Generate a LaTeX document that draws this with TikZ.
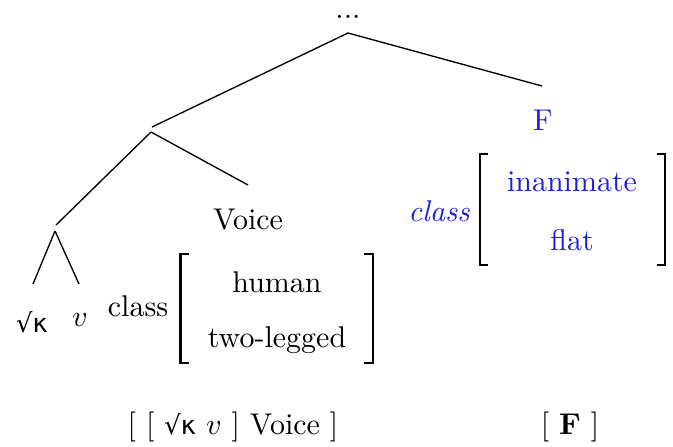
\documentclass[tikz,border=0pt]{standalone}
\usepackage{fontspec}
\newfontfamily\symf{DejaVu Sans}
\definecolor{fblue}{RGB}{30,30,220}
\newcommand{\rk}{{\fontsize{8.6}{10}\selectfont\symf √κ}}
\begin{document}
\begin{tikzpicture}[x=0.33333pt,y=-0.33333pt,
  every node/.style={font=\fontsize{10}{12}\selectfont, inner sep=0pt},
  branch/.style={line width=0.45pt},
  brk/.style={line width=0.8pt},
  blu/.style={text=fblue}]
\useasboundingbox (0,0) rectangle (673,446);
% tree points
\coordinate (root) at (348,33);
\coordinate (ftop) at (542,86);
\coordinate (n1in) at (152,127);
\coordinate (n1) at (151,132);
\coordinate (vtop) at (248,185);
\coordinate (n2in) at (56,225);
\coordinate (n2) at (55,231);
\coordinate (kt) at (33,284);
\coordinate (vt) at (79,284);
% labels
\node[anchor=base, text height=2pt] (dots) at (348,18) {...};
\node[blu] (F) at (543,120) {F};
\node (voice) at (248,220) {Voice};
\node (kappa) at (32,322) {\rk};
\node (vv) at (80,320) {$v$};
% connectors
\draw[branch] (root) -- (ftop);
\draw[branch] (root) -- (n1in);
\draw[branch] (n1) -- (vtop);
\draw[branch] (n1) -- (n2in);
\draw[branch] (n2) -- (kt);
\draw[branch] (n2) -- (vt);
% black feature matrix
\node (cls) at (138,306) {class};
\node (human) at (277,282) {human};
\node (legged) at (277,340) {two-legged};
\draw[brk] (189,254) -- (180.5,254) -- (180.5,363) -- (189,363);
\draw[brk] (364,254) -- (373,254) -- (373,363) -- (364,363);
% blue feature matrix
\node[blu] (bcls) at (439,211) {\itshape class};
\node[blu] (inan) at (572,182) {inanimate};
\node[blu] (flat) at (572,240) {flat};
\draw[brk] (488,154) -- (480,154) -- (480,265) -- (488,265);
\draw[brk] (657,154) -- (665,154) -- (665,265) -- (657,265);
% bottom brackets
\node (brl) at (233,427) {[ [ \rk{} $v$ ] Voice ]};
\node (brf) at (570,427) {[ \textbf{F} ]};
\end{tikzpicture}
\end{document}
